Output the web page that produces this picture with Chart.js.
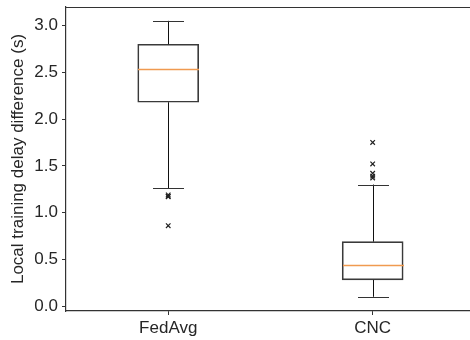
<!DOCTYPE html>
<html>
<head>
<meta charset="utf-8">
<script src="https://cdn.jsdelivr.net/npm/chart.js@4/dist/chart.umd.min.js"></script>
<style>
  html, body { margin: 0; padding: 0; background: #fff; overflow: hidden; }
  #wrap { width: 476px; height: 340px; }
  canvas { display: block; }
</style>
</head>
<body>
<div id="wrap"><canvas id="chart"></canvas></div>
<script>
// box plot data
const categories = ['FedAvg', 'CNC'];
const positions = [1, 2];
const whiskerLow = [1.26, 0.10];
const q1 = [2.18, 0.28];
const median = [2.54, 0.445];
const q3 = [2.80, 0.69];
const whiskerHigh = [3.05, 1.30];
const outliers = [
    [1.19, 1.175, 1.17, 0.86],
    [1.75, 1.52, 1.42, 1.39, 1.37]
];
const yTicks = [0.0, 0.5, 1.0, 1.5, 2.0, 2.5, 3.0];

const axisColor = '#333333';
const textColor = '#262626';
const boxWidth = 61;
const capWidth = 31;

const boxData = positions.map((p, i) => ({ x: p, y: [q1[i], q3[i]] }));
const outlierData = [];
outliers.forEach((list, i) => {
    list.forEach(v => outlierData.push({ x: positions[i], y: v }));
});

// whiskers, caps, medians and the top frame line
const boxExtras = {
    id: 'boxExtras',
    afterDatasetsDraw(chart) {
        const ctx = chart.ctx;
        const xs = chart.scales.x;
        const ys = chart.scales.y;
        const area = chart.chartArea;
        ctx.save();
        ctx.lineWidth = 1;
        positions.forEach((p, i) => {
            const x = Math.round(xs.getPixelForValue(p)) + 0.5;
            ctx.strokeStyle = '#111';
            ctx.beginPath();
            ctx.moveTo(x, ys.getPixelForValue(q3[i]));
            ctx.lineTo(x, ys.getPixelForValue(whiskerHigh[i]));
            ctx.moveTo(x, ys.getPixelForValue(q1[i]));
            ctx.lineTo(x, ys.getPixelForValue(whiskerLow[i]));
            ctx.stroke();
            ctx.strokeStyle = axisColor;
            ctx.beginPath();
            const yHi = Math.round(ys.getPixelForValue(whiskerHigh[i])) + 0.5;
            const yLo = Math.round(ys.getPixelForValue(whiskerLow[i])) + 0.5;
            ctx.moveTo(x - capWidth / 2, yHi);
            ctx.lineTo(x + capWidth / 2, yHi);
            ctx.moveTo(x - capWidth / 2, yLo);
            ctx.lineTo(x + capWidth / 2, yLo);
            ctx.stroke();
            ctx.strokeStyle = '#f09a50';
            ctx.lineWidth = 1.3;
            const yMed = Math.round(ys.getPixelForValue(median[i])) + 0.5;
            ctx.beginPath();
            ctx.moveTo(x - boxWidth / 2, yMed);
            ctx.lineTo(x + boxWidth / 2, yMed);
            ctx.stroke();
            ctx.lineWidth = 1;
        });
        ctx.strokeStyle = axisColor;
        ctx.lineWidth = 1.2;
        ctx.beginPath();
        ctx.moveTo(area.left, Math.round(area.top) + 0.5);
        ctx.lineTo(area.right, Math.round(area.top) + 0.5);
        ctx.stroke();
        ctx.restore();
    }
};

new Chart(document.getElementById('chart'), {
    type: 'bar',
    data: {
        datasets: [
            {
                type: 'bar',
                data: boxData,
                backgroundColor: 'rgba(0,0,0,0)',
                borderColor: '#3a3a3a',
                borderWidth: 1,
                borderSkipped: false,
                barThickness: boxWidth
            },
            {
                type: 'scatter',
                data: outlierData,
                pointStyle: 'crossRot',
                pointRadius: 3.2,
                borderColor: '#222',
                borderWidth: 1.2,
                backgroundColor: '#222'
            }
        ]
    },
    plugins: [boxExtras],
    options: {
        responsive: true,
        maintainAspectRatio: false,
        animation: false,
        layout: { padding: { top: 7, right: 0, left: 0, bottom: 0 } },
        plugins: { legend: { display: false }, tooltip: { enabled: false } },
        scales: {
            x: {
                type: 'linear',
                min: 0.5,
                max: 2.48,
                offset: false,
                afterBuildTicks: s => { s.ticks = positions.map(v => ({ value: v })); },
                afterFit: s => { s.height = 29; s.paddingLeft = 0; s.paddingRight = 0; },
                grid: { display: true, offset: false, drawOnChartArea: false, drawTicks: true, tickLength: 4, color: axisColor },
                border: { display: true, color: axisColor, width: 1.2 },
                ticks: {
                    color: textColor,
                    font: { family: 'Liberation Sans, Arial, sans-serif', size: 17 },
                    padding: 3,
                    maxRotation: 0,
                    callback: v => categories[positions.indexOf(v)] || ''
                }
            },
            y: {
                min: -0.052,
                max: 3.198,
                afterBuildTicks: s => { s.ticks = yTicks.map(v => ({ value: v })); },
                afterFit: s => { s.width = 66; s.paddingTop = 0; s.paddingBottom = 0; },
                grid: { display: true, drawOnChartArea: false, drawTicks: true, tickLength: 4, color: axisColor },
                border: { display: true, color: axisColor, width: 1.2 },
                ticks: {
                    color: textColor,
                    font: { family: 'Liberation Sans, Arial, sans-serif', size: 17 },
                    padding: 4,
                    callback: v => Number(v).toFixed(1)
                },
                title: {
                    display: true,
                    text: 'Local training delay difference (s)',
                    color: textColor,
                    font: { family: 'Liberation Sans, Arial, sans-serif', size: 17 },
                    padding: { top: 8, bottom: 0 }
                }
            }
        }
    }
});
</script>
</body>
</html>
